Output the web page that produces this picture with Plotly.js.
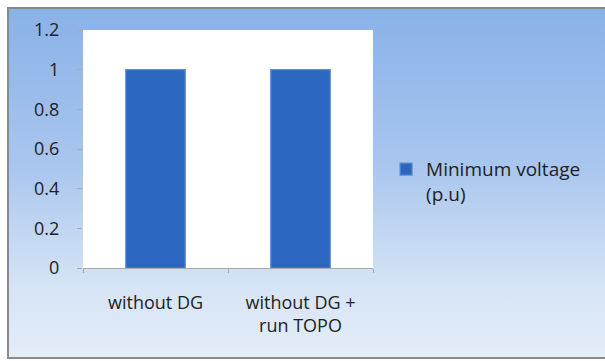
<!DOCTYPE html>
<html>
<head>
<meta charset="utf-8">
<script src="https://cdn.plot.ly/plotly-3.0.1.min.js"></script>
<style>
  html, body { margin: 0; padding: 0; width: 605px; height: 361px; overflow: hidden; background: #ffffff; }
  #frame {
    position: absolute; left: 7px; top: 7px; width: 604px; height: 348px;
    border: 2px solid #8a8a8a; border-right: none;
    background: linear-gradient(to bottom, #8ab1e8 0%, #a9c6ee 45%, #d6e4f5 80%, #e4edf8 100%);
  }
  #chart { position: absolute; left: 0; top: 0; width: 605px; height: 361px; }
</style>
</head>
<body>
<div id="frame"></div>
<div id="chart"></div>
<script>
// Minimum bus voltage for the two network cases
const categories = ['without DG', 'without DG +<br>run TOPO'];
const minVoltage = [1, 1];
const seriesName = 'Minimum voltage<br>(p.u)';
const yTicks = [0, 0.2, 0.4, 0.6, 0.8, 1, 1.2];

const fontFamily = '"Open Sans", Lato, sans-serif';

const trace = {
  type: 'bar',
  x: categories,
  y: minVoltage,
  name: seriesName,
  width: 0.41,
  marker: { color: '#2b67c1', line: { color: '#5a8ad4', width: 1.2 } },
  showlegend: true,
  hoverinfo: 'skip'
};

const layout = {
  width: 605, height: 361,
  margin: { l: 83, r: 232, t: 30, b: 93 },
  paper_bgcolor: 'rgba(0,0,0,0)',
  plot_bgcolor: '#ffffff',
  font: { family: fontFamily, size: 18, color: '#222222' },
  showlegend: true,
  legend: {
    x: 1.045, xanchor: 'left', y: 0.495, yanchor: 'top',
    valign: 'top',
    bgcolor: 'rgba(0,0,0,0)', font: { size: 19, color: '#222222' },
    itemwidth: 30
  },
  xaxis: {
    type: 'category',
    showline: true, linecolor: '#a9a9a9', linewidth: 1,
    ticks: 'outside', tickson: 'boundaries', ticklen: 4, tickcolor: '#a9a9a9',
    ticklabelstandoff: 18,
    showgrid: false, zeroline: false,
    tickfont: { size: 18 }
  },
  yaxis: {
    range: [0, 1.2],
    tickvals: yTicks,
    ticktext: yTicks.map(v => String(v)),
    showline: false,
    ticks: 'outside', ticklen: 5, tickcolor: '#a9a9a9',
    ticklabelstandoff: 14,
    showgrid: false, zeroline: false,
    tickfont: { size: 18 }
  },
  bargap: 0.59
};

Plotly.newPlot('chart', [trace], layout, { staticPlot: true, displayModeBar: false });
</script>
</body>
</html>
